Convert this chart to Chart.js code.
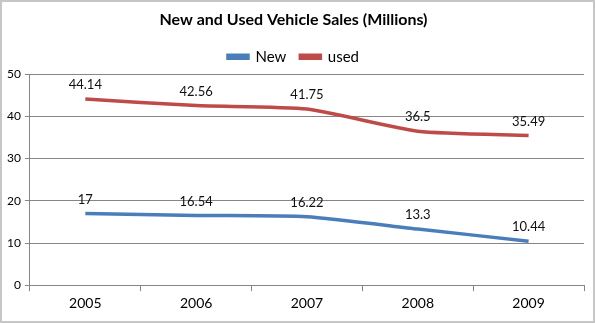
<!DOCTYPE html>
<html>
<head>
<meta charset="utf-8">
<script src="https://cdn.jsdelivr.net/npm/chart.js@4"></script>
<style>
  body { margin: 0; background: #fff; }
  #wrap { width: 595px; height: 323px; box-sizing: border-box; border: 2px solid #c6c6c6; position: relative; }
  canvas { display: block; }
</style>
</head>
<body>
<div id="wrap"><canvas id="salesChart" width="591" height="319"></canvas></div>
<script>
const years = ['2005', '2006', '2007', '2008', '2009'];
const newSales = [17, 16.54, 16.22, 13.3, 10.44];
const usedSales = [44.14, 42.56, 41.75, 36.5, 35.49];
const yTicks = [0, 10, 20, 30, 40, 50];

const FONT = 'Lato, "Open Sans", sans-serif';

// Draws the value above each point
const valueLabels = {
    id: 'valueLabels',
    afterDatasetsDraw(chart) {
        const ctx = chart.ctx;
        ctx.save();
        ctx.font = '13px ' + FONT;
        ctx.fillStyle = '#111';
        ctx.textAlign = 'center';
        ctx.textBaseline = 'middle';
        chart.data.datasets.forEach((ds, i) => {
            chart.getDatasetMeta(i).data.forEach((pt, j) => {
                ctx.fillText(String(ds.data[j]), pt.x, pt.y - 14);
            });
        });
        ctx.restore();
    }
};

new Chart(document.getElementById('salesChart'), {
    type: 'line',
    data: {
        labels: years,
        datasets: [{
            label: 'New',
            data: newSales,
            borderColor: '#4a7ebb',
            backgroundColor: '#4a7ebb',
            borderWidth: 3.5,
            tension: 0.2,
            pointRadius: 0
        }, {
            label: 'used',
            data: usedSales,
            borderColor: '#be4b48',
            backgroundColor: '#be4b48',
            borderWidth: 3.5,
            tension: 0.2,
            pointRadius: 0
        }]
    },
    options: {
        responsive: false,
        animation: false,
        layout: { padding: { left: 1, right: 9, top: 0, bottom: 5 } },
        plugins: {
            title: {
                display: true,
                text: 'New and Used Vehicle Sales (Millions)',
                color: '#000',
                font: { family: FONT, size: 16, weight: 'bold' },
                padding: { top: 8, bottom: 6 }
            },
            legend: {
                labels: {
                    color: '#000',
                    font: { family: FONT, size: 15 },
                    boxWidth: 20,
                    boxHeight: 3,
                    padding: 14
                }
            },
            tooltip: { enabled: false }
        },
        scales: {
            x: {
                offset: true,
                grid: { offset: true, drawOnChartArea: false, color: '#868686', tickLength: 6 },
                border: { color: '#868686' },
                ticks: { color: '#000', font: { family: FONT, size: 14 }, padding: 4 }
            },
            y: {
                min: 0,
                max: 50,
                afterBuildTicks: axis => { axis.ticks = yTicks.map(v => ({ value: v })); },
                grid: { color: '#868686', tickLength: 5 },
                border: { color: '#868686' },
                ticks: { color: '#000', font: { family: FONT, size: 12 }, padding: 4 }
            }
        }
    },
    plugins: [valueLabels]
});
</script>
</body>
</html>
